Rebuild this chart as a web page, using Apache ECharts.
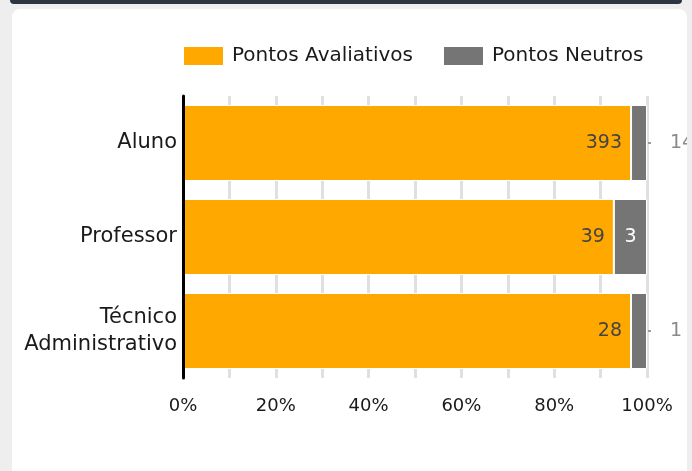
<!DOCTYPE html>
<html>
<head>
<meta charset="utf-8">
<script src="https://cdn.jsdelivr.net/npm/echarts@6/dist/echarts.min.js"></script>
<style>
html,body{margin:0;padding:0;background:#eeeeee;width:692px;height:471px;overflow:hidden;}
#strip{position:absolute;left:10px;top:0;width:672px;height:4px;background:#2b3640;border-radius:0 0 6px 6px;}
#card{position:absolute;left:12px;top:9px;width:675px;height:470px;background:#fff;border-radius:8px;overflow:hidden;}
#chart{position:absolute;left:0;top:0;width:675px;height:462px;}
</style>
</head>
<body>
<div id="strip"></div>
<div id="card"><div id="chart"></div></div>
<script>
const categories = ['Aluno', 'Professor', 'Técnico\nAdministrativo'];
const pontosAvaliativos = [393, 39, 28];
const pontosNeutros = [14, 3, 1];
const xTickLabels = ['0%', '20%', '40%', '60%', '80%', '100%'];

const FONT = 'DejaVu Sans';
const totals = categories.map((c, i) => pontosAvaliativos[i] + pontosNeutros[i]);
const pctA = pontosAvaliativos.map((v, i) => v / totals[i] * 100);
const pctN = pontosNeutros.map((v, i) => v / totals[i] * 100);

const neutData = pctN.map((p, i) => {
  const item = { value: p };
  if (p < 6) {
    item.label = {
      show: true, position: 'right', distance: 1,
      formatter: '{d|}{v|' + pontosNeutros[i] + '}',
      rich: {
        d: { width: 3, height: 2, backgroundColor: '#9a9a9a' },
        v: { color: '#8a8a8a', fontSize: 19, fontFamily: FONT, padding: [0, 0, 0, 19] }
      }
    };
  }
  return item;
});

const chart = echarts.init(document.getElementById('chart'), null, { renderer: 'canvas' });
chart.setOption({
  animation: false,
  textStyle: { fontFamily: FONT },
  legend: {
    top: 36, left: 170, padding: 0,
    itemWidth: 41, itemHeight: 20, itemGap: 29,
    icon: 'rect',
    textStyle: { fontSize: 20, color: '#1a1a1a', fontFamily: FONT, padding: [0, 0, 0, 3] },
    data: ['Pontos Avaliativos', 'Pontos Neutros']
  },
  grid: { left: 171, right: 40, top: 87, bottom: 93, containLabel: false },
  xAxis: {
    type: 'value', min: 0, max: 100, interval: 10,
    axisLine: { show: false }, axisTick: { show: false },
    splitLine: { show: true, lineStyle: { color: '#e0e0e0', width: 3 } },
    axisLabel: {
      margin: 19, fontSize: 18, color: '#1a1a1a', fontFamily: FONT,
      formatter: v => (v % 20 === 0 ? xTickLabels[v / 20] : '')
    }
  },
  yAxis: {
    type: 'category', data: categories, inverse: true, z: 5,
    axisLine: { show: true, lineStyle: { color: '#000', width: 3 } },
    axisTick: { show: false },
    axisLabel: { margin: 6, fontSize: 21, color: '#1a1a1a', fontFamily: FONT, lineHeight: 27, align: 'right' }
  },
  series: [
    {
      name: 'Pontos Avaliativos', type: 'bar', stack: 'total', barWidth: 76,
      itemStyle: { color: '#ffa800', borderColor: '#fff', borderWidth: 1 },
      label: {
        show: true, position: 'insideRight', distance: 9,
        color: '#444', fontSize: 19, fontFamily: FONT,
        formatter: p => pontosAvaliativos[p.dataIndex]
      },
      data: pctA
    },
    {
      name: 'Pontos Neutros', type: 'bar', stack: 'total', barWidth: 76,
      itemStyle: { color: '#757575', borderColor: '#fff', borderWidth: 1 },
      label: {
        show: true, position: 'inside',
        color: '#fff', fontSize: 19, fontFamily: FONT,
        formatter: p => pontosNeutros[p.dataIndex]
      },
      data: neutData
    }
  ]
});
</script>
</body>
</html>
